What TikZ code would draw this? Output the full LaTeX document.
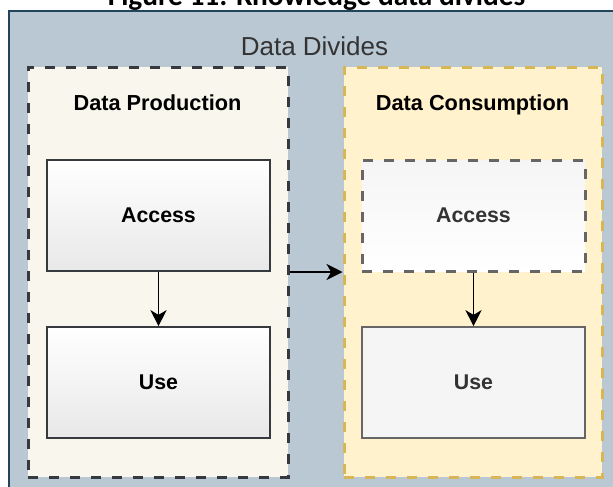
\documentclass[tikz,border=0pt]{standalone}
\usepackage{fontspec}
\setmainfont{Liberation Sans}
\newfontfamily\captionfont{Carlito}
\usetikzlibrary{arrows.meta}

\definecolor{panelfill}{HTML}{BAC8D3}
\definecolor{panelline}{HTML}{23445D}
\definecolor{prodfill}{HTML}{F9F7ED}
\definecolor{darkline}{HTML}{36393D}
\definecolor{consfill}{HTML}{FFF2CC}
\definecolor{consline}{HTML}{D6B656}
\definecolor{greyline}{HTML}{666666}
\definecolor{softfill}{HTML}{F5F5F5}
\definecolor{shadefill}{HTML}{E8E8E8}
\definecolor{headtext}{HTML}{333333}

\tikzset{
  panel/.style={draw=panelline, line width=1.3pt, fill=panelfill, rectangle, inner sep=0pt},
  group/.style={rectangle, inner sep=0pt, line width=2.25pt,
                dash pattern=on 7.5pt off 8.25pt,
                minimum width=195pt, minimum height=307.5pt},
  prodgroup/.style={group, draw=darkline, fill=prodfill},
  consgroup/.style={group, draw=consline, fill=consfill, minimum width=193.5pt},
  stepbox/.style={rectangle, inner sep=0pt, minimum width=167.25pt, minimum height=83.25pt,
                  font=\fontsize{16}{19}\selectfont\bfseries},
  solidbox/.style={stepbox, draw=darkline, line width=1.2pt, top color=white, bottom color=shadefill},
  greybox/.style={stepbox, draw=greyline, line width=1.2pt, fill=softfill, text=headtext},
  ghostbox/.style={stepbox, draw=greyline, line width=2.25pt, dash pattern=on 7.5pt off 8.25pt,
                   top color=softfill, bottom color=white, text=headtext},
  grouplabel/.style={anchor=base, font=\fontsize{16.3}{19}\selectfont\bfseries},
  flow/.style={draw=black, line width=1.4pt, -{Stealth[length=12pt, width=12pt, inset=3.5pt]}}
}

\begin{document}
\begin{tikzpicture}[x=0.75pt, y=-0.75pt]
  \useasboundingbox (0,0) rectangle (613,486);
  \clip (0,0) rectangle (613,486);

  % caption above the diagram, partly above the page edge
  \node[anchor=base, font=\captionfont\bfseries\fontsize{22}{26}\selectfont]
    (caption) at (316.5,5.5) {Figure 11: Knowledge data divides};

  % outer panel
  \node[panel, minimum width=473.25pt, minimum height=381.75pt] (divides) at (324.5,265.5) {};
  \node[font=\fontsize{19.5}{23}\selectfont, text=headtext] (dividestitle) at (314.5,46) {Data Divides};

  % production side
  \node[prodgroup] (prod) at (158,272) {};
  \node[grouplabel] (prodtitle) at (157.5,110.5) {Data Production};
  \node[solidbox] (paccess) at (158.5,215.5) {Access};
  \node[solidbox] (puse) at (158.5,382.5) {Use};

  % consumption side
  \node[consgroup] (cons) at (473,272) {};
  \node[grouplabel] (constitle) at (472.5,110.5) {Data Consumption};
  \node[ghostbox] (caccess) at (473.5,215.5) {Access};
  \node[greybox] (cuse) at (473.5,382.5) {Use};

  % connectors
  \draw[flow] (paccess.south) -- (puse.north);
  \draw[flow] (caccess.south) -- (cuse.north);
  \draw[flow] (prod.east) -- (cons.west);
\end{tikzpicture}
\end{document}
